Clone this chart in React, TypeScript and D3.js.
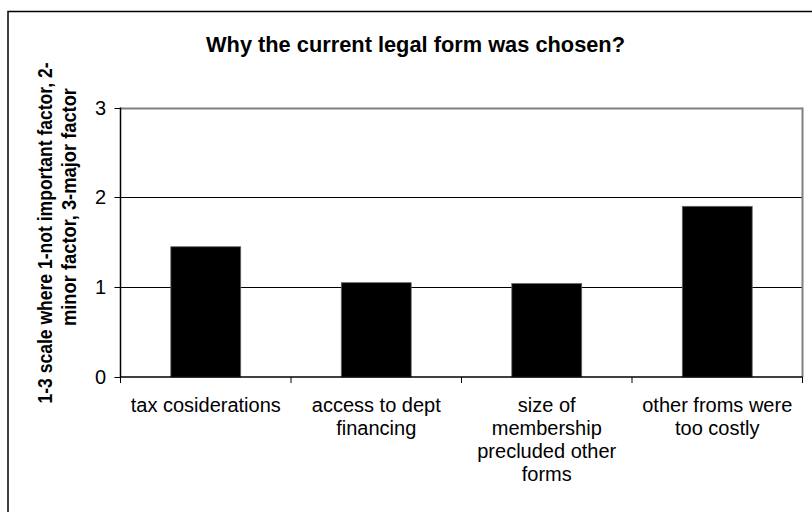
import React from "react";
import * as d3 from "d3";

const title = "Why the current legal form was chosen?";
const yTitleLines = ["1-3 scale where 1-not important factor, 2-", "minor factor, 3-major factor"];
const categories = [
  ["tax cosiderations"],
  ["access to dept", "financing"],
  ["size of", "membership", "precluded other", "forms"],
  ["other froms were", "too costly"],
];
const values = [1.45, 1.05, 1.04, 1.9];
const yTicks = [0, 1, 2, 3];

export default function App() {
  const W = 812, H = 512;
  const left = 120.5, right = 802.5, top = 107.5, bottom = 377;
  const y = d3.scaleLinear().domain([0, 3]).range([bottom, top]);
  const x = d3.scaleBand<number>().domain(d3.range(categories.length)).range([left, right]).paddingInner(0.59).paddingOuter(0.295);
  const step = (right - left) / categories.length;
  const font = "'Liberation Sans', Arial, sans-serif";
  const yTitlePos = [{ x: 52, cy: 233, len: 341 }, { x: 76, cy: 207, len: 238 }];
  return (
    <svg width={W} height={H} style={{ position: "absolute", left: 0, top: 0, background: "#fff" }} fontFamily={font}>
      <rect x={8} y={11.5} width={840} height={540} fill="#fff" stroke="#000" strokeWidth={1.5} />
      <text x={415.5} y={52} textAnchor="middle" fontWeight="bold" fontSize={22} textLength={419} lengthAdjust="spacingAndGlyphs">{title}</text>
      {/* gridlines */}
      {yTicks.slice(1).map((t) => (
        <line key={t} x1={left} x2={right} y1={Math.round(y(t)) + 0.5} y2={Math.round(y(t)) + 0.5} stroke={t === 3 ? "#808080" : "#000"} strokeWidth={t === 3 ? 2 : 1} />
      ))}
      <line x1={right} x2={right} y1={top} y2={bottom} stroke="#808080" strokeWidth={2} />
      {/* bars */}
      {values.map((v, i) => (
        <rect key={i} x={x(i)} y={y(v)} width={x.bandwidth()} height={bottom - y(v)} fill="#000" stroke="#666" strokeWidth={0.8} />
      ))}
      {/* axes */}
      <line x1={left} x2={left} y1={top} y2={bottom} stroke="#000" strokeWidth={1.5} />
      <line x1={left} x2={right} y1={bottom} y2={bottom} stroke="#000" strokeWidth={1.5} />
      {yTicks.map((t) => (
        <g key={t}>
          <line x1={left - 6} x2={left} y1={Math.round(y(t)) + 0.5} y2={Math.round(y(t)) + 0.5} stroke="#000" />
          <text x={106} y={y(t) + 7} textAnchor="end" fontSize={20}>{t}</text>
        </g>
      ))}
      {d3.range(categories.length + 1).map((k) => (
        <line key={k} x1={left + k * step} x2={left + k * step} y1={bottom} y2={bottom + 6} stroke="#000" />
      ))}
      {categories.map((lines, i) => (
        <text key={i} textAnchor="middle" fontSize={20}>
          {lines.map((l, j) => (
            <tspan key={j} x={left + step * (i + 0.5)} y={412 + j * 23}>{l}</tspan>
          ))}
        </text>
      ))}
      {yTitleLines.map((l, j) => (
        <text key={j} transform={`translate(${yTitlePos[j].x},${yTitlePos[j].cy}) rotate(-90)`} fontWeight="bold" fontSize={20.5} textAnchor="middle" textLength={yTitlePos[j].len} lengthAdjust="spacingAndGlyphs">{l}</text>
      ))}
    </svg>
  );
}
